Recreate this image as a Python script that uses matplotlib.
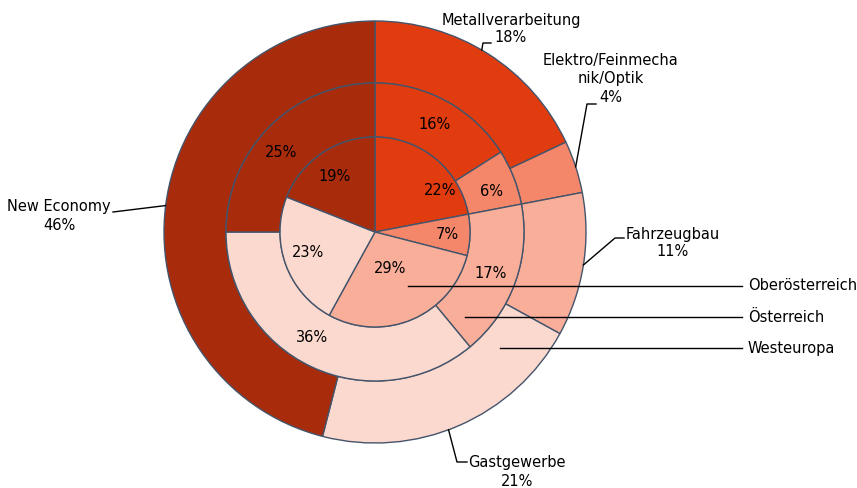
import numpy as np
import matplotlib
matplotlib.use("Agg")
import matplotlib.pyplot as plt

# data (percent shares per region)
branchen = ["Metallverarbeitung", "Elektro/Feinmecha\nnik/Optik", "Fahrzeugbau",
            "Gastgewerbe", "New Economy"]
westeuropa = [18, 4, 11, 21, 46]
oesterreich = [16, 6, 17, 36, 25]
oberoesterreich = [22, 7, 29, 23, 19]
ringe = ["Oberösterreich", "Österreich", "Westeuropa"]

farben = ["#E03C10", "#F4876A", "#F9AE9A", "#FCD9CE", "#A82B0C"]
kante = "#44546A"

plt.rcParams['font.family'] = ['Liberation Sans Narrow', 'DejaVu Sans']
plt.rcParams['font.size'] = 10.5

W, H = 857, 488
fig = plt.figure(figsize=(W / 100, H / 100), dpi=100)
ax = fig.add_axes([0, 0, 1, 1])

cx, cy = 375, H - 232
r_out, r_mid, r_in = 211, 149, 95

wp = dict(edgecolor=kante, linewidth=1.0)
ax.pie(westeuropa, radius=r_out, center=(cx, cy), colors=farben, startangle=90,
       counterclock=False, wedgeprops=dict(width=r_out - r_mid, **wp), frame=True)
ax.pie(oesterreich, radius=r_mid, center=(cx, cy), colors=farben, startangle=90,
       counterclock=False, wedgeprops=dict(width=r_mid - r_in, **wp), frame=True)
ax.pie(oberoesterreich, radius=r_in, center=(cx, cy), colors=farben, startangle=90,
       counterclock=False, wedgeprops=wp, frame=True)
ax.set_xlim(0, W)
ax.set_ylim(0, H)
ax.axis("off")


def mittelwinkel(werte):
    w = np.array(werte, dtype=float)
    ende = 90 - np.cumsum(w) / w.sum() * 360
    start = ende + w / w.sum() * 360
    return (start + ende) / 2


# inner labels (radius factor, angle shift like Excel's best-fit)
lab_in = [(0.81, -18), (0.76, -0.5), (0.42, -1), (0.74, -3), (0.72, 2)]
for wert, a, (f, da) in zip(oberoesterreich, mittelwinkel(oberoesterreich), lab_in):
    a = np.radians(a + da)
    ax.text(cx + f * r_in * np.cos(a), cy + f * r_in * np.sin(a), f"{wert}%",
            ha="center", va="center")

lab_mid = [0, -2.5, 0, -5.5, 4.5]
for wert, a, da in zip(oesterreich, mittelwinkel(oesterreich), lab_mid):
    a = np.radians(a + da)
    rr = 123
    ax.text(cx + rr * np.cos(a), cy + rr * np.sin(a), f"{wert}%",
            ha="center", va="center")

# outer labels with leader lines: (angle shift, knick x, knick y, ende x, text x, text y)
leader = [
    (2, 483, 43, 491, 511, 29),
    (0, 587, 104, 596, 611, 79),
    (0, 615, 238, 624, 673, 243),
    (-3, 457, 462, 467, 517, 472),
    (0, 113, 212, 113, 59, 216),
]
for name, wert, a, (da, kx, ky, ex, tx, ty) in zip(branchen, westeuropa,
                                                   mittelwinkel(westeuropa), leader):
    a = np.radians(a + da)
    px, py = cx + r_out * np.cos(a), cy + r_out * np.sin(a)
    ax.plot([px, kx, ex], [py, H - ky, H - ky], color="black", lw=1.0)
    ax.text(tx, H - ty, f"{name}\n{wert}%", ha="center", va="center",
            linespacing=1.25)

# series name lines
serien_lines = [(408, 286), (465, 317), (500, 348)]
for name, (x0, y0) in zip(ringe, serien_lines):
    ax.plot([x0, 742], [H - y0, H - y0], color="black", lw=1.0)
    ax.text(748, H - y0, name, ha="left", va="center")

fig.savefig("out.png", dpi=100)
